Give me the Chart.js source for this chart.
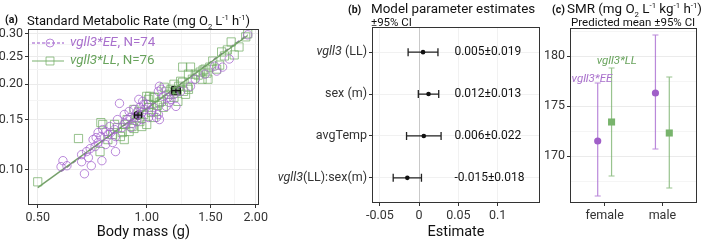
<!DOCTYPE html>
<html>
<head>
<meta charset="utf-8">
<script src="https://cdn.jsdelivr.net/npm/chart.js@4.4.0/dist/chart.umd.min.js"></script>
<style>
  body { margin: 0; width: 709px; height: 242px; background: #fff; position: relative; overflow: hidden; font-family: Roboto, sans-serif; color: #111; }
  canvas { position: absolute; top: 0; }
  .t { position: absolute; white-space: nowrap; font-family: Roboto; font-size: 13.4px; line-height: 18px; }
  .tag { position: absolute; white-space: nowrap; font-family: Roboto; font-size: 10.5px; font-weight: bold; }
  .st { position: absolute; white-space: nowrap; font-family: Roboto; font-size: 11.5px; line-height: 13px; }
  sub, sup { font-size: 58%; line-height: 0; }
</style>
</head>
<body>
<canvas id="chartA" width="270" height="242" style="left:0"></canvas>
<canvas id="chartB" width="274" height="242" style="left:270px"></canvas>
<canvas id="chartC" width="165" height="242" style="left:544px"></canvas>

<div class="tag" style="left:5px;top:13px">(a)</div>
<div class="t" style="left:27px;top:12px;font-size:13px">Standard Metabolic Rate (mg O<sub>2</sub> L<sup>-1</sup> h<sup>-1</sup>)</div>
<div class="tag" style="left:348px;top:3px">(b)</div>
<div class="t" style="left:371px;top:0px">Model parameter estimates</div>
<div class="st" style="left:371px;top:16px">±95% CI</div>
<div class="tag" style="left:552px;top:3px">(c)</div>
<div class="t" style="left:567px;top:0px">SMR (mg O<sub>2</sub> L<sup>-1</sup> kg<sup>-1</sup> h<sup>-1</sup>)</div>
<div class="st" style="left:571px;top:16px">Predicted mean ±95% CI</div>

<script>
// ---- panel (a): body mass (g) vs SMR, by genotype ----
const eeMass = [0.580, 0.587, 0.602, 0.661, 0.690, 0.673, 0.661, 0.698, 0.720, 0.725,
  0.711, 0.734, 0.747, 0.770, 0.756, 0.790, 0.815, 0.820, 0.805, 0.770,
  0.820, 0.752, 0.734, 0.781, 0.795, 0.841, 0.856, 0.872, 0.883, 0.900,
  0.911, 0.922, 0.928, 0.939, 0.939, 0.957, 0.969, 0.981, 0.975, 0.987,
  1.000, 0.951, 1.077, 1.064, 1.084, 1.084, 1.097, 1.077, 1.111, 1.146,
  1.132, 1.153, 1.167, 1.204, 1.189, 1.241, 1.321, 1.362, 1.449, 1.541,
  1.560, 1.620, 1.690, 1.901, 1.031, 1.012, 1.044, 0.867, 0.830, 0.894,
  0.969, 0.682, 0.703, 0.905];
const eeSmr = [0.1025, 0.1076, 0.1033, 0.1067, 0.1103, 0.0968, 0.1130, 0.1186, 0.1206, 0.1297,
  0.1276, 0.1246, 0.1308, 0.1362, 0.1384, 0.1418, 0.1384, 0.1308, 0.1246, 0.1226,
  0.1158, 0.1076, 0.1351, 0.1329, 0.1351, 0.1710, 0.1407, 0.1452, 0.1500, 0.1526,
  0.1452, 0.1628, 0.1526, 0.1589, 0.1476, 0.1656, 0.1589, 0.1696, 0.1738, 0.1628,
  0.1696, 0.1766, 0.1563, 0.1526, 0.1500, 0.1964, 0.1916, 0.1885, 0.1810, 0.1795,
  0.1669, 0.1724, 0.1766, 0.1669, 0.1840, 0.1885, 0.1964, 0.2079, 0.2166, 0.2311,
  0.2220, 0.2293, 0.2448, 0.2976, 0.1602, 0.1526, 0.1656, 0.1563, 0.1500, 0.1602,
  0.1500, 0.1158, 0.1033, 0.1407];
const llMass = [0.500, 0.648, 0.747, 0.743, 0.756, 0.815, 0.856, 0.846, 0.867, 0.894,
  0.911, 0.922, 1.012, 1.031, 1.064, 1.044, 1.012, 1.084, 1.019, 1.012,
  1.051, 1.097, 1.111, 1.153, 1.226, 1.257, 1.280, 1.296, 1.257, 1.321,
  1.362, 1.405, 1.449, 1.494, 1.422, 1.337, 0.969, 1.000, 1.071, 1.189,
  1.219, 1.304, 1.387, 1.431, 1.467, 1.476, 1.560, 1.590, 1.610, 1.639,
  1.670, 1.711, 1.744, 1.877, 1.901, 1.304, 1.264, 1.241, 0.922, 1.000,
  1.044, 0.830, 0.805, 0.872, 0.939, 0.957, 0.981, 1.167, 1.189, 1.132,
  0.781, 0.883, 1.522, 1.798, 1.118, 0.951];
const llSmr = [0.0907, 0.1287, 0.1464, 0.1158, 0.1442, 0.1442, 0.1351, 0.1308, 0.1276, 0.1362,
  0.1418, 0.1396, 0.1656, 0.1589, 0.1602, 0.1526, 0.1696, 0.1724, 0.1810, 0.1766,
  0.1795, 0.1738, 0.1656, 0.1840, 0.1964, 0.2029, 0.1840, 0.1948, 0.2293, 0.2293,
  0.2166, 0.2202, 0.2256, 0.2293, 0.2079, 0.2079, 0.1418, 0.1442, 0.1682, 0.1795,
  0.1738, 0.2166, 0.2149, 0.2238, 0.2184, 0.2079, 0.2256, 0.2330, 0.2592, 0.2509,
  0.2634, 0.2810, 0.2530, 0.2928, 0.3000, 0.1916, 0.1885, 0.2045, 0.1628, 0.1810,
  0.1795, 0.1407, 0.1329, 0.1442, 0.1526, 0.1476, 0.1563, 0.1916, 0.1996, 0.1885,
  0.1276, 0.1500, 0.2408, 0.2698, 0.1948, 0.1602];
// fitted lines (end points) and group means with CI
const eeFitMass = [0.58, 1.90];
const eeFitSmr = [0.0986, 0.298];
const llFitMass = [0.50, 1.90];
const llFitSmr = [0.0866, 0.296];
const eeMeanMass = [0.946], eeMeanMassCI = [0.925, 0.968], eeMeanSmr = [0.1555], eeMeanSmrCI = [0.152, 0.159];
const llMeanMass = [1.204], llMeanMassCI = [1.172, 1.238], llMeanSmr = [0.1895], llMeanSmrCI = [0.186, 0.193];
const massTicks = [0.5, 0.75, 1, 1.25, 1.5, 1.75, 2];
const massLabels = ['0.50', '', '1.00', '', '1.50', '', '2.00'];
const smrTicks = [0.1, 0.125, 0.15, 0.175, 0.2, 0.225, 0.25, 0.275, 0.3];
const smrLabels = ['0.10', '', '0.15', '', '0.20', '', '0.25', '', '0.30'];

// ---- panel (b): model parameter estimates ----
const paramItalic = ['vgll3', '', '', 'vgll3'];
const paramRest = [' (LL)', 'sex (m)', 'avgTemp', '(LL):sex(m)'];
const paramEst = [0.005, 0.012, 0.006, -0.015];
const paramCI = [0.019, 0.013, 0.022, 0.018];
const estTicks = [-0.05, 0, 0.05, 0.1];
const estLabels = ['-0.05', '0', '0.05', '0.1'];

// ---- panel (c): predicted SMR by sex ----
const sexGroups = ['female', 'male'];
const eeMean = [171.5, 176.3];
const eeLow = [166.0, 170.7];
const eeHigh = [177.3, 182.1];
const llMean = [173.4, 172.3];
const llLow = [168.0, 166.8];
const llHigh = [178.8, 177.9];
const smrGridTicks = [167.5, 170, 172.5, 175, 177.5, 180, 182.5];
const smrGridLabels = ['', '170', '', '175', '', '180', ''];

const purple = 'rgba(163,98,205,0.75)';
const green = 'rgba(112,172,98,0.72)';
const purpleText = '#a970cc';
const greenText = '#68a35c';
const axisText = '#333';
const font = 'Roboto';

const frame = {
  id: 'frame',
  afterDraw(chart) {
    const { ctx, chartArea: a } = chart;
    ctx.save();
    ctx.strokeStyle = '#333';
    ctx.lineWidth = 1;
    ctx.strokeRect(Math.round(a.left) + 0.5, Math.round(a.top) + 0.5, Math.round(a.right - a.left) - 1, Math.round(a.bottom - a.top) - 1);
    ctx.restore();
  }
};

function pts(xs, ys) {
  return xs.map((x, i) => ({ x: x, y: ys[i] }));
}

function ticksFrom(values) {
  return (scale) => { scale.ticks = values.map((v) => ({ value: v })); };
}

// ---------- chart A ----------
const meansA = {
  id: 'meansA',
  afterDatasetsDraw(chart) {
    const { ctx, scales: { x, y } } = chart;
    const bars = [
      [eeMeanMass[0], eeMeanMassCI, eeMeanSmr[0], eeMeanSmrCI],
      [llMeanMass[0], llMeanMassCI, llMeanSmr[0], llMeanSmrCI]
    ];
    ctx.save();
    ctx.strokeStyle = '#111';
    ctx.lineWidth = 1.2;
    bars.forEach(([mx, mxCI, my, myCI]) => {
      const px = x.getPixelForValue(mx), py = y.getPixelForValue(my);
      const x1 = x.getPixelForValue(mxCI[0]), x2 = x.getPixelForValue(mxCI[1]);
      const y1 = y.getPixelForValue(myCI[0]), y2 = y.getPixelForValue(myCI[1]);
      ctx.beginPath();
      ctx.moveTo(x1, py); ctx.lineTo(x2, py);
      ctx.moveTo(x1, py - 3); ctx.lineTo(x1, py + 3);
      ctx.moveTo(x2, py - 3); ctx.lineTo(x2, py + 3);
      ctx.moveTo(px, y1); ctx.lineTo(px, y2);
      ctx.stroke();
    });
    ctx.restore();
  }
};

const legendA = {
  id: 'legendA',
  afterDraw(chart) {
    const ctx = chart.ctx;
    const items = [
      { color: purple, text: purpleText, dash: [3, 2], style: 'circle', r: 4, italic: 'vgll3*EE', rest: ', N=' + eeMass.length },
      { color: green, text: greenText, dash: [], style: 'rect', r: 5.6, italic: 'vgll3*LL', rest: ', N=' + llMass.length }
    ];
    items.forEach((it, i) => {
      const y = chart.chartArea.top + 14 + i * 18;
      const x0 = chart.chartArea.left + 4;
      ctx.save();
      ctx.strokeStyle = it.color;
      ctx.lineWidth = 1.3;
      ctx.setLineDash(it.dash);
      ctx.beginPath(); ctx.moveTo(x0, y); ctx.lineTo(x0 + 32, y); ctx.stroke();
      ctx.setLineDash([]);
      ctx.fillStyle = 'rgba(0,0,0,0)';
      ctx.lineWidth = 1;
      Chart.helpers.drawPoint(ctx, { pointStyle: it.style, radius: it.r, borderWidth: 1 }, x0 + 18, y);
      ctx.fillStyle = it.text;
      ctx.textBaseline = 'middle';
      ctx.font = 'italic 13.4px ' + font;
      ctx.fillText(it.italic, x0 + 38, y);
      const w = ctx.measureText(it.italic).width;
      ctx.font = '13.4px ' + font;
      ctx.fillText(it.rest, x0 + 38 + w, y);
      ctx.restore();
    });
  }
};

new Chart(document.getElementById('chartA'), {
  type: 'scatter',
  data: {
    datasets: [
      { data: pts(eeMass, eeSmr), pointStyle: 'circle', pointRadius: 4.2, borderColor: purple, backgroundColor: 'rgba(0,0,0,0)', borderWidth: 1 },
      { data: pts(llMass, llSmr), pointStyle: 'rect', pointRadius: 5.8, borderColor: green, backgroundColor: 'rgba(0,0,0,0)', borderWidth: 1 },
      { data: pts(llFitMass, llFitSmr), showLine: true, pointRadius: 0, borderColor: 'rgba(110,155,98,0.95)', borderWidth: 1.5 },
      { data: pts(eeFitMass, eeFitSmr), showLine: true, pointRadius: 0, borderColor: 'rgba(140,110,160,0.95)', borderDash: [4, 3], borderWidth: 1.5 },
      { data: pts(eeMeanMass, eeMeanSmr), pointStyle: 'circle', pointRadius: 4.2, backgroundColor: '#6e3a86', borderColor: '#111', borderWidth: 1 },
      { data: pts(llMeanMass, llMeanSmr), pointStyle: 'rect', pointRadius: 6, backgroundColor: '#5d8e55', borderColor: '#111', borderWidth: 1 }
    ]
  },
  options: {
    responsive: false,
    animation: false,
    layout: { padding: { top: 29, right: 5, left: 0, bottom: 0 } },
    plugins: { legend: { display: false }, tooltip: { enabled: false } },
    scales: {
      x: {
        type: 'logarithmic', min: 0.47, max: 2.04,
        afterBuildTicks: ticksFrom(massTicks),
        afterFit: (s) => { s.height = 37; },
        ticks: { autoSkip: false, maxRotation: 0, padding: 2, color: axisText, font: { family: font, size: 12.5 },
          callback: (v) => massLabels[massTicks.indexOf(v)] },
        grid: { color: (c) => massLabels[massTicks.indexOf(c.tick.value)] ? '#ebebeb' : '#f5f5f5',
          tickColor: (c) => massLabels[massTicks.indexOf(c.tick.value)] ? '#333' : 'rgba(0,0,0,0)', tickLength: 3 },
        border: { display: false },
        title: { display: true, text: 'Body mass (g)', color: '#111', font: { family: font, size: 14.5 }, padding: { top: 0, bottom: 1 } }
      },
      y: {
        type: 'logarithmic', min: 0.0752, max: 0.312,
        afterBuildTicks: ticksFrom(smrTicks),
        afterFit: (s) => { s.width = 28; },
        ticks: { autoSkip: false, padding: 2, color: axisText, font: { family: font, size: 12.5 },
          callback: (v) => smrLabels[smrTicks.indexOf(v)] },
        grid: { color: (c) => smrLabels[smrTicks.indexOf(c.tick.value)] ? '#ebebeb' : '#f5f5f5',
          tickColor: (c) => smrLabels[smrTicks.indexOf(c.tick.value)] ? '#333' : 'rgba(0,0,0,0)', tickLength: 3 },
        border: { display: false }
      }
    }
  },
  plugins: [meansA, legendA, frame]
});

// ---------- chart B ----------
const rowOf = (i) => paramEst.length - i;

const forestB = {
  id: 'forestB',
  beforeDatasetsDraw(chart) {
    const { ctx, scales: { x, y }, chartArea: a } = chart;
    ctx.save();
    // zero reference line
    const x0 = Math.round(x.getPixelForValue(0)) + 0.5;
    ctx.strokeStyle = '#c9c9c9';
    ctx.lineWidth = 1;
    ctx.beginPath(); ctx.moveTo(x0, a.top); ctx.lineTo(x0, a.bottom); ctx.stroke();
    ctx.strokeStyle = '#222';
    ctx.lineWidth = 1.3;
    paramEst.forEach((e, i) => {
      const py = y.getPixelForValue(rowOf(i));
      const x1 = x.getPixelForValue(e - paramCI[i]), x2 = x.getPixelForValue(e + paramCI[i]);
      ctx.beginPath();
      ctx.moveTo(x1, py); ctx.lineTo(x2, py);
      ctx.moveTo(x1, py - 4); ctx.lineTo(x1, py + 4);
      ctx.moveTo(x2, py - 4); ctx.lineTo(x2, py + 4);
      ctx.stroke();
    });
    ctx.restore();
  },
  afterDraw(chart) {
    const { ctx, scales: { x, y }, chartArea: a } = chart;
    ctx.save();
    ctx.textBaseline = 'middle';
    paramEst.forEach((e, i) => {
      const py = y.getPixelForValue(rowOf(i));
      // value text
      ctx.fillStyle = '#111';
      ctx.textAlign = 'left';
      ctx.font = '12px ' + font;
      ctx.fillText(e.toFixed(3) + '±' + paramCI[i].toFixed(3), x.getPixelForValue(0.045), py);
      // axis label, italic gene name + plain rest
      ctx.textAlign = 'right';
      ctx.fillStyle = axisText;
      const right = a.left - 5;
      ctx.font = '12.5px ' + font;
      ctx.fillText(paramRest[i], right, py);
      const w = ctx.measureText(paramRest[i]).width;
      ctx.font = 'italic 12.5px ' + font;
      if (paramItalic[i]) ctx.fillText(paramItalic[i], right - w, py);
    });
    ctx.restore();
  }
};

new Chart(document.getElementById('chartB'), {
  type: 'scatter',
  data: {
    datasets: [
      { data: paramEst.map((e, i) => ({ x: e, y: rowOf(i) })), pointRadius: 2.3, backgroundColor: '#111', borderColor: '#111', borderWidth: 0 }
    ]
  },
  options: {
    responsive: false,
    animation: false,
    layout: { padding: { top: 27, right: 1, left: 0, bottom: 0 } },
    plugins: { legend: { display: false }, tooltip: { enabled: false } },
    scales: {
      x: {
        type: 'linear', min: -0.06, max: 0.154,
        afterBuildTicks: ticksFrom(estTicks),
        afterFit: (s) => { s.height = 39; },
        ticks: { autoSkip: false, maxRotation: 0, padding: 2, color: axisText, font: { family: font, size: 12.5 },
          callback: (v) => estLabels[estTicks.indexOf(v)] },
        grid: { color: '#f1f1f1', tickColor: '#333', tickLength: 3 },
        border: { display: false },
        title: { display: true, text: 'Estimate', color: '#111', font: { family: font, size: 14.5 }, padding: { top: 0, bottom: 1 } }
      },
      y: {
        type: 'linear', min: 0.4, max: 4.6,
        afterBuildTicks: ticksFrom([1, 2, 3, 4]),
        afterFit: (s) => { s.width = 102; },
        ticks: { callback: () => '' },
        grid: { color: '#f1f1f1', tickColor: '#333', tickLength: 3 },
        border: { display: false }
      }
    }
  },
  plugins: [forestB, frame]
});

// ---------- chart C ----------
const dodge = 0.12;

const barsC = {
  id: 'barsC',
  beforeDatasetsDraw(chart) {
    const { ctx, scales: { x, y } } = chart;
    ctx.save();
    ctx.lineWidth = 1.2;
    const groups = [[eeLow, eeHigh, -dodge, purple], [llLow, llHigh, dodge, green]];
    groups.forEach(([lo, hi, off, col]) => {
      ctx.strokeStyle = col;
      sexGroups.forEach((g, i) => {
        const px = x.getPixelForValue(i + 1 + off);
        const y1 = y.getPixelForValue(lo[i]), y2 = y.getPixelForValue(hi[i]);
        ctx.beginPath();
        ctx.moveTo(px, y1); ctx.lineTo(px, y2);
        ctx.moveTo(px - 3, y1); ctx.lineTo(px + 3, y1);
        ctx.moveTo(px - 3, y2); ctx.lineTo(px + 3, y2);
        ctx.stroke();
      });
    });
    ctx.restore();
  },
  afterDraw(chart) {
    const { ctx, scales: { x, y } } = chart;
    ctx.save();
    ctx.textAlign = 'center';
    ctx.textBaseline = 'middle';
    ctx.font = 'italic 11.5px ' + font;
    ctx.fillStyle = purpleText;
    ctx.fillText('vgll3*EE', x.getPixelForValue(1 - dodge - 0.1), y.getPixelForValue(eeHigh[0] + 0.4));
    ctx.fillStyle = greenText;
    ctx.fillText('vgll3*LL', x.getPixelForValue(1 + dodge + 0.09), y.getPixelForValue(llHigh[0] + 0.7));
    ctx.restore();
  }
};

new Chart(document.getElementById('chartC'), {
  type: 'scatter',
  data: {
    datasets: [
      { data: eeMean.map((m, i) => ({ x: i + 1 - dodge, y: m })), pointStyle: 'circle', pointRadius: 3.6, backgroundColor: 'rgba(160,95,200,1)', borderWidth: 0 },
      { data: llMean.map((m, i) => ({ x: i + 1 + dodge, y: m })), pointStyle: 'rect', pointRadius: 5, backgroundColor: 'rgba(120,180,108,1)', borderWidth: 0 }
    ]
  },
  options: {
    responsive: false,
    animation: false,
    layout: { padding: { top: 28, right: 12, left: 0, bottom: 0 } },
    plugins: { legend: { display: false }, tooltip: { enabled: false } },
    scales: {
      x: {
        type: 'linear', min: 0.4, max: 2.6,
        afterBuildTicks: ticksFrom([1, 2]),
        afterFit: (s) => { s.height = 39; },
        ticks: { autoSkip: false, maxRotation: 0, padding: 2, color: axisText, font: { family: font, size: 12.5 },
          callback: (v) => sexGroups[v - 1] },
        grid: { color: 'rgba(0,0,0,0)', tickColor: '#333', tickLength: 3 },
        border: { display: false }
      },
      y: {
        type: 'linear', min: 165.3, max: 182.8,
        afterBuildTicks: ticksFrom(smrGridTicks),
        afterFit: (s) => { s.width = 26; },
        ticks: { autoSkip: false, padding: 2, color: axisText, font: { family: font, size: 12.5 },
          callback: (v) => smrGridLabels[smrGridTicks.indexOf(v)] },
        grid: { color: (c) => smrGridLabels[smrGridTicks.indexOf(c.tick.value)] ? '#ebebeb' : '#f5f5f5',
          tickColor: (c) => smrGridLabels[smrGridTicks.indexOf(c.tick.value)] ? '#333' : 'rgba(0,0,0,0)', tickLength: 3 },
        border: { display: false }
      }
    }
  },
  plugins: [barsC, frame]
});
</script>
</body>
</html>
